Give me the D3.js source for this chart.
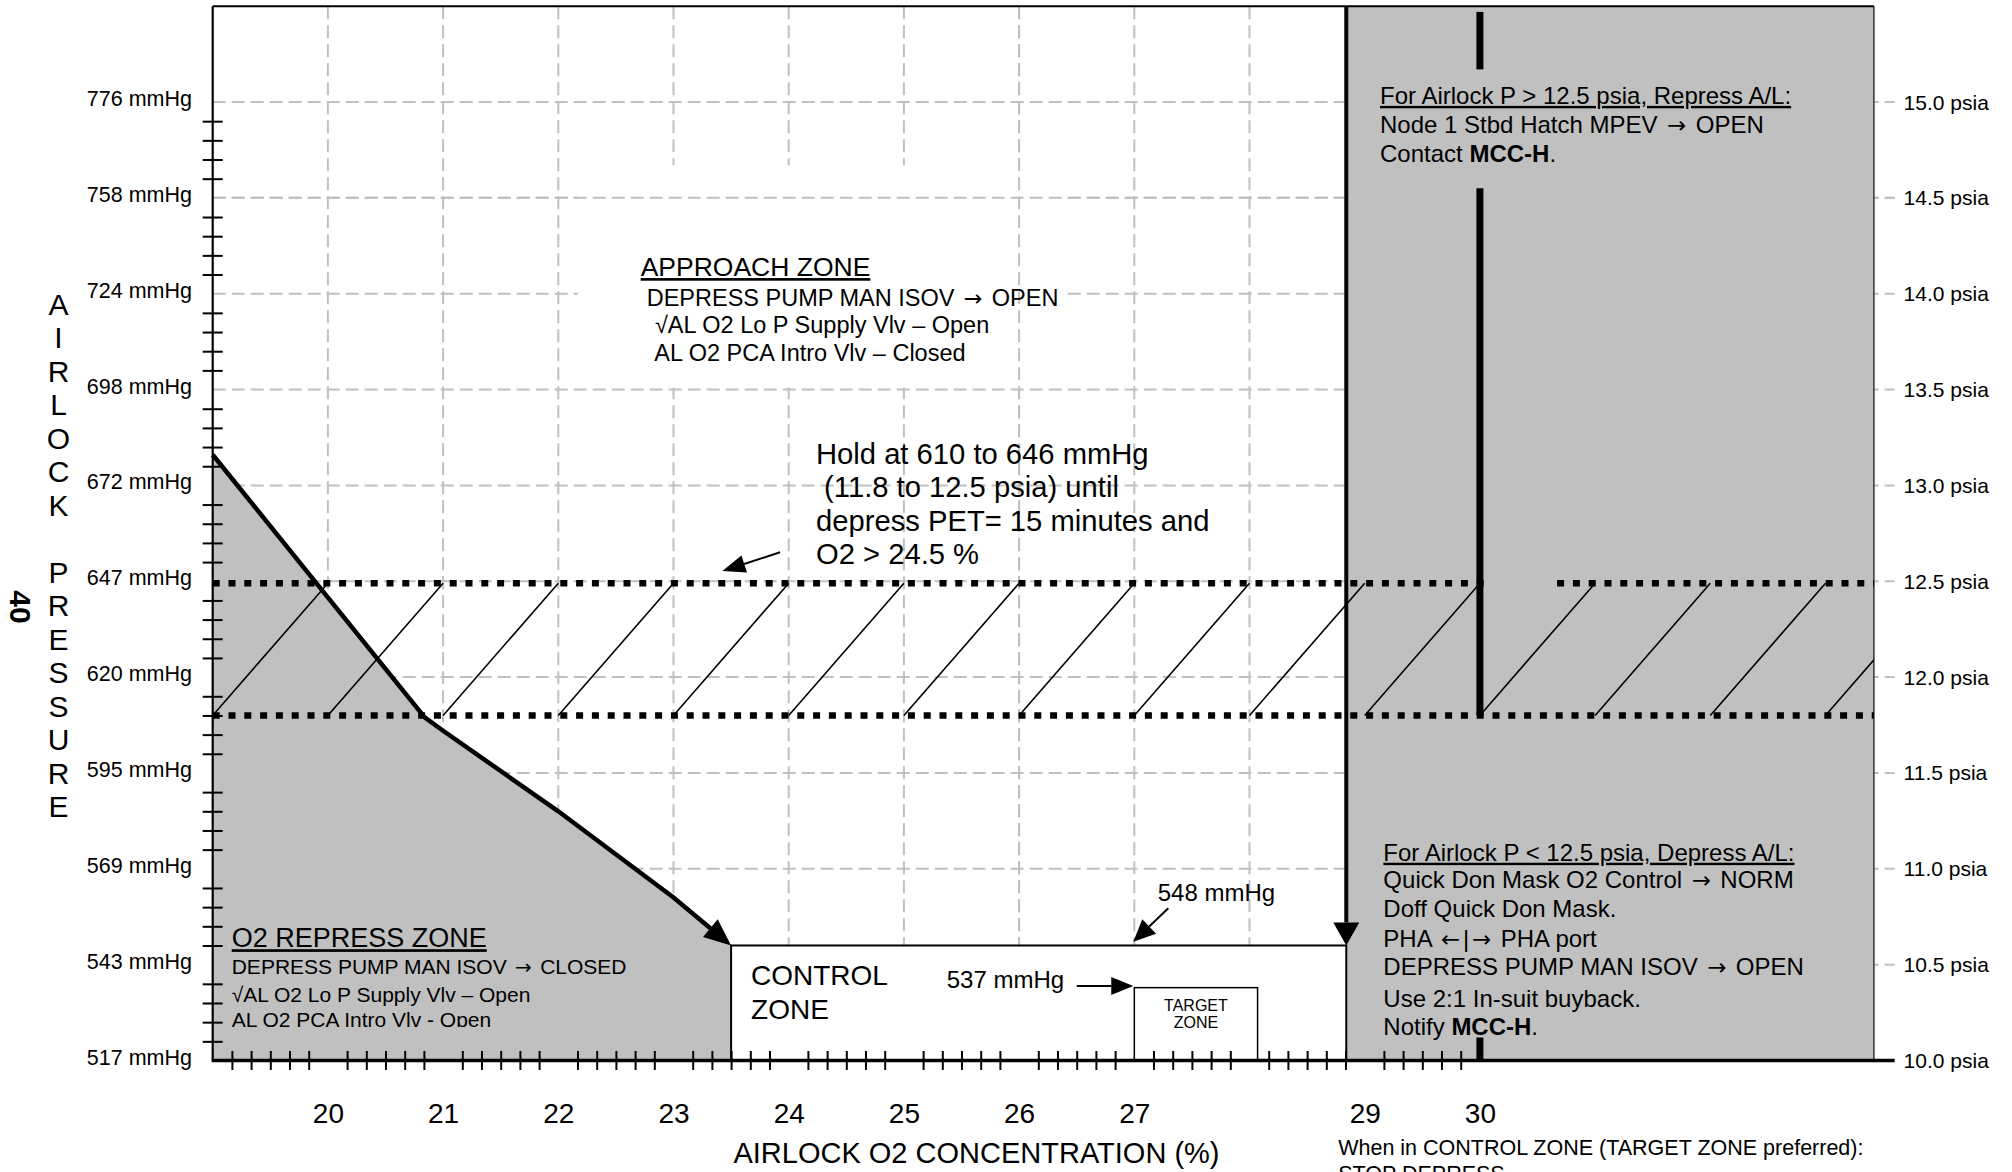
<!DOCTYPE html>
<html><head><meta charset="utf-8">
<script src="https://cdn.jsdelivr.net/npm/d3@7"></script>
<style>
body{margin:0;background:#fff}
svg{display:block}
text{font-family:"Liberation Sans",Arial,Helvetica,sans-serif;fill:#000}
</style></head>
<body><svg id="c" width="2012" height="1172"></svg>
<script>
// ---------------- DATA ----------------
const o2Domain = [19, 33.42];
const psiaDomain = [10, 15.5];
const psiaGrid = [15.0,14.5,14.0,13.5,13.0,12.5,12.0,11.5,11.0,10.5,10.0];
const mmHgLabels = ["776 mmHg","758 mmHg","724 mmHg","698 mmHg","672 mmHg","647 mmHg","620 mmHg","595 mmHg","569 mmHg","543 mmHg","517 mmHg"];
const psiaLabels = ["15.0 psia","14.5 psia","14.0 psia","13.5 psia","13.0 psia","12.5 psia","12.0 psia","11.5 psia","11.0 psia","10.5 psia","10.0 psia"];
const o2Grid = [20,21,22,23,24,25,26,27,28];
const o2Labels = [20,21,22,23,24,25,26,27,29,30];
const repressBoundary = [[19,13.16],[20.84,11.79],[21.0,11.72],[22.0,11.30],[23.0,10.85],[23.5,10.6]];
const holdBand = [11.8, 12.49];
const hatchStarts = [19,20,21,22,23,24,25,26,27,28,29,30,31,32,33];
const upperDotSegments = [[19,30.1],[30.67,33.42]];
const lowerDotSegments = [[19,33.42]];
const controlZoneO2 = [23.5, 28.84];
const controlZonePsia = [10, 10.6];
const targetZoneO2 = [27, 28.07];
const targetZonePsia = [10, 10.38];
const rightZoneO2 = [28.84, 33.42];
const o2ThirtySegments = [[15.47,15.17],[14.55,11.8],[10.12,10.0]];
const approachMaskO2 = [22.17, 26.4];
const approachMaskPsia = [13.51, 14.67];
const axisLetters = "AIRLOCK PRESSURE".split("");
const approachTitle = "APPROACH ZONE";
const approachLines = ["DEPRESS PUMP MAN ISOV \u2192 OPEN","\u221AAL O2 Lo P Supply Vlv \u2013 Open","AL O2 PCA Intro Vlv \u2013 Closed"];
const holdLines = ["Hold at 610 to 646 mmHg"," (11.8 to 12.5 psia) until","depress PET= 15 minutes and","O2 > 24.5 %"];
const repressTitle = "O2 REPRESS ZONE";
const repressLines = ["DEPRESS PUMP MAN ISOV \u2192 CLOSED","\u221AAL O2 Lo P Supply Vlv \u2013 Open","AL O2 PCA Intro Vlv - Open"];
const upperTitle = "For Airlock P > 12.5 psia, Repress A/L:";
const upperLines = [[["Node 1 Stbd Hatch MPEV \u2192 OPEN",0]],[["Contact ",0],["MCC-H",1],[".",0]]];
const lowerTitle = "For Airlock P < 12.5 psia, Depress A/L:";
const lowerLines = [[["Quick Don Mask O2 Control \u2192 NORM",0]],[["Doff Quick Don Mask.",0]],[["PHA \u2190|\u2192 PHA port",0]],[["DEPRESS PUMP MAN ISOV \u2192 OPEN",0]],[["Use 2:1 In-suit buyback.",0]],[["Notify ",0],["MCC-H",1],[".",0]]];
const noteLines = ["When in CONTROL ZONE (TARGET ZONE preferred):","STOP DEPRESS"];

// ---------------- SCALES ----------------
const svg = d3.select("#c");
const x = d3.scaleLinear().domain(o2Domain).range([212.7, 1873.9]);
const y = d3.scaleLinear().domain(psiaDomain).range([1060.5, 6.15]);
const FONT = '"Liberation Sans",Arial,Helvetica,sans-serif';
const ARROWFONT = '"DejaVu Sans","Liberation Sans",sans-serif';
const GRAY = "#c0c0c0";
const stubEnd = 33.6;

svg.append("rect").attr("width",2012).attr("height",1172).attr("fill","#fff");
const defs = svg.append("defs");
defs.append("clipPath").attr("id","plotClip").append("rect")
  .attr("x",x(o2Domain[0])).attr("y",y(psiaDomain[1])).attr("width",x(o2Domain[1])-x(o2Domain[0])).attr("height",y(10)-y(psiaDomain[1]));
defs.append("clipPath").attr("id","repClip").append("rect")
  .attr("x",x(19)).attr("y",0).attr("width",x(23.5)-x(19)).attr("height",y(10.175));

// ---------------- GRIDLINES ----------------
function hGrid(g, v){
  g.append("line").attr("x1",x(19)).attr("x2",x(stubEnd)).attr("y1",y(v)).attr("y2",y(v))
   .attr("stroke",GRAY).attr("stroke-width",2).attr("stroke-dasharray","13,6");
}
function vGrid(g, v){
  g.append("line").attr("x1",x(v)).attr("x2",x(v)).attr("y1",y(psiaDomain[1])).attr("y2",y(10))
   .attr("stroke",GRAY).attr("stroke-width",2).attr("stroke-dasharray","13,6");
}
const grid = svg.append("g");
psiaGrid.filter(v=>v>10).forEach(v=>hGrid(grid,v));
o2Grid.forEach(v=>vGrid(grid,v));
svg.append("rect").attr("x",x(approachMaskO2[0])).attr("y",y(approachMaskPsia[1]))
  .attr("width",x(approachMaskO2[1])-x(approachMaskO2[0])).attr("height",y(approachMaskPsia[0])-y(approachMaskPsia[1]))
  .attr("fill","#fff");
const grid2 = svg.append("g");
hGrid(grid2,14.5); vGrid(grid2,26);

// ---------------- ZONES ----------------
const polyPts = repressBoundary.concat([[23.5,10],[19,10]]);
svg.append("path").attr("d", d3.line().x(d=>x(d[0])).y(d=>y(d[1]))(polyPts)+"Z").attr("fill",GRAY);
svg.append("rect").attr("x",x(rightZoneO2[0])).attr("y",y(psiaDomain[1]))
  .attr("width",x(rightZoneO2[1])-x(rightZoneO2[0])).attr("height",y(10)-y(psiaDomain[1]))
  .attr("fill",GRAY);
svg.append("line").attr("x1",x(rightZoneO2[1])).attr("x2",x(rightZoneO2[1])).attr("y1",y(psiaDomain[1])).attr("y2",y(10))
  .attr("stroke","#333").attr("stroke-width",1.5);
svg.append("rect").attr("x",x(controlZoneO2[0])).attr("y",y(controlZonePsia[1]))
  .attr("width",x(controlZoneO2[1])-x(controlZoneO2[0])).attr("height",y(controlZonePsia[0])-y(controlZonePsia[1]))
  .attr("fill","#fff").attr("stroke","#000").attr("stroke-width",2);
svg.append("rect").attr("x",x(targetZoneO2[0])).attr("y",y(targetZonePsia[1]))
  .attr("width",x(targetZoneO2[1])-x(targetZoneO2[0])).attr("height",y(targetZonePsia[0])-y(targetZonePsia[1]))
  .attr("fill","#fff").attr("stroke","#000").attr("stroke-width",1.5);

// ---------------- HATCH + DOTTED ----------------
const hatch = svg.append("g").attr("clip-path","url(#plotClip)");
hatchStarts.forEach(n=>{
  hatch.append("line").attr("x1",x(n)).attr("y1",y(holdBand[0])).attr("x2",x(n+1)).attr("y2",y(holdBand[1]))
    .attr("stroke","#000").attr("stroke-width",1.6);
});
function dotted(segs, v){
  segs.forEach(s=>{
    svg.append("line").attr("x1",x(s[0])).attr("x2",x(s[1])).attr("y1",y(v)).attr("y2",y(v))
      .attr("stroke","#000").attr("stroke-width",6.5).attr("stroke-dasharray","7,8.8");
  });
}
dotted(upperDotSegments, holdBand[1]);
dotted(lowerDotSegments, holdBand[0]);

// ---------------- ARROWS ----------------
function head(px1,py1,px2,py2,len,hw){
  const dx=px2-px1, dy=py2-py1, L=Math.hypot(dx,dy), ux=dx/L, uy=dy/L;
  const bx=px2-ux*len, by=py2-uy*len;
  svg.append("path").attr("d",`M${px2},${py2}L${bx-uy*hw},${by+ux*hw}L${bx+uy*hw},${by-ux*hw}Z`).attr("fill","#000");
  return [bx,by];
}
function arrow(p1,p2,len,hw,w){
  const a=[x(p1[0]),y(p1[1])], b=[x(p2[0]),y(p2[1])];
  const base=head(a[0],a[1],b[0],b[1],len,hw);
  svg.append("line").attr("x1",a[0]).attr("y1",a[1]).attr("x2",base[0]).attr("y2",base[1])
    .attr("stroke","#000").attr("stroke-width",w);
}
{
  const pts = repressBoundary.map(d=>[x(d[0]),y(d[1])]);
  const n=pts.length;
  const base=head(pts[n-2][0],pts[n-2][1],pts[n-1][0],pts[n-1][1],27,11.5);
  const linePts = pts.slice(0,n-1).concat([base]);
  svg.append("path").attr("d",d3.line()(linePts)).attr("fill","none").attr("stroke","#000")
    .attr("stroke-width",4.5).attr("stroke-linejoin","miter");
}
{
  const xs=x(rightZoneO2[0]);
  const base=head(xs,y(psiaDomain[1]),xs,y(controlZonePsia[1]),23,13);
  svg.append("line").attr("x1",xs).attr("x2",xs).attr("y1",y(psiaDomain[1])).attr("y2",base[1])
    .attr("stroke","#000").attr("stroke-width",4);
}
o2ThirtySegments.forEach(s=>{
  svg.append("line").attr("x1",x(30)).attr("x2",x(30)).attr("y1",y(s[0])).attr("y2",y(s[1]))
    .attr("stroke","#000").attr("stroke-width",7);
});
arrow([23.925,12.651],[23.424,12.553],23,9,2);
arrow([27.295,10.794],[26.991,10.62],22,10,2);
arrow([26.5,10.389],[26.991,10.389],22,9,2);

// ---------------- AXES ----------------
svg.append("line").attr("x1",x(19)).attr("x2",x(o2Domain[1])).attr("y1",y(psiaDomain[1])).attr("y2",y(psiaDomain[1]))
  .attr("stroke","#000").attr("stroke-width",2);
svg.append("line").attr("x1",x(19)).attr("x2",x(19)).attr("y1",y(psiaDomain[1])).attr("y2",y(10))
  .attr("stroke","#000").attr("stroke-width",2.2);
svg.append("line").attr("x1",x(19)-1).attr("x2",x(stubEnd)).attr("y1",y(10)).attr("y2",y(10))
  .attr("stroke","#000").attr("stroke-width",3.5);

const minorPsia = d3.range(101,150).filter(i=>i%5!==0).map(i=>i/10);
const gLm = svg.append("g").attr("transform",`translate(${x(19)},0)`)
  .call(d3.axisLeft(y).tickValues(minorPsia).tickFormat("").tickSizeInner(10).tickSizeOuter(0));
gLm.select(".domain").remove();
gLm.selectAll(".tick line").attr("x1",10).attr("stroke-width",2);

const minorO2 = d3.range(115,181).filter(i=>i%6!==0).map(i=>i/6);
const gBm = svg.append("g").attr("transform",`translate(0,${y(10)})`)
  .call(d3.axisBottom(x).tickValues(minorO2).tickFormat("").tickSizeInner(9.5).tickSizeOuter(0));
gBm.select(".domain").remove();
gBm.selectAll(".tick line").attr("y1",-9.5).attr("stroke-width",2);

const gL = svg.append("g").attr("transform",`translate(${x(19)},0)`)
  .call(d3.axisLeft(y).tickValues(psiaGrid).tickFormat((d,i)=>mmHgLabels[i]).tickSize(0).tickPadding(20.7));
gL.select(".domain").remove();
gL.selectAll("text").attr("font-family",FONT).attr("font-size",21.5).attr("dy",3.5);

const gR = svg.append("g").attr("transform",`translate(${x(o2Domain[1])},0)`)
  .call(d3.axisRight(y).tickValues(psiaGrid).tickFormat((d,i)=>psiaLabels[i]).tickSize(0).tickPadding(29.7));
gR.select(".domain").remove();
gR.selectAll("text").attr("font-family",FONT).attr("font-size",21).attr("dy",7);

const gB = svg.append("g").attr("transform",`translate(0,${y(10)})`)
  .call(d3.axisBottom(x).tickValues(o2Labels).tickFormat(d=>d).tickSize(0));
gB.select(".domain").remove();
gB.selectAll("text").attr("font-family",FONT).attr("font-size",28).attr("y",62).attr("dy",0);

// ---------------- TEXT ----------------
function addRich(t, str, bold, size){
  let afterArrow=false;
  str.split(/([\u2190\u2192])/).forEach(part=>{
    if(part==="") return;
    const ts=t.append("tspan").text(part);
    if(bold) ts.attr("font-weight","bold");
    if(part==="\u2192"||part==="\u2190"){
      ts.attr("font-family",ARROWFONT).attr("font-size",size*0.95).attr("dx",size*0.12);
      afterArrow=true;
    } else if(afterArrow){
      ts.attr("dx",size*0.12); afterArrow=false;
    }
  });
}
function txt(px,py,s,size,opts={}){
  const t=svg.append("text").attr("x",px).attr("y",py).attr("font-size",size).attr("font-family",FONT);
  if(opts.anchor) t.attr("text-anchor",opts.anchor);
  if(opts.underline) t.style("text-decoration","underline");
  t.style("white-space","pre");
  if(Array.isArray(s)) s.forEach(p=>addRich(t,p[0],p[1],size));
  else addRich(t,s,false,size);
  return t;
}
axisLetters.forEach((c,i)=>{ if(c!==" ") txt(58.5, 304+i*33.5+10.7, c, 30, {anchor:"middle"}); });
svg.append("text").attr("transform","translate(20,607) rotate(90)").attr("text-anchor","middle").attr("dy",10.5)
  .attr("font-size",30).attr("font-weight","bold").attr("font-family",FONT).text("40");
txt(x(25.63), 1163.3, "AIRLOCK O2 CONCENTRATION (%)", 29, {anchor:"middle"});

{
  const ax=x(22.715), ay=y(14.092);
  txt(ax, ay, approachTitle, 26.5, {underline:true});
  const offs=[[6,29.7],[14.3,57.3],[13.6,84.7]];
  approachLines.forEach((l,i)=>txt(ax+offs[i][0], ay+offs[i][1], l, 23.5));
}
{
  const hx=x(24.237), hy=y(13.112);
  holdLines.forEach((l,i)=>txt(hx, hy+i*33.4, l, 29.2));
}
{
  const rx=x(19.165), ry=y(10.591);
  txt(rx, ry, repressTitle, 27, {underline:true});
  const g = svg.append("g").attr("clip-path","url(#repClip)");
  const offs=[26.7,54.4,79.4];
  repressLines.forEach((l,i)=>{
    const t=g.append("text").attr("x",rx).attr("y",ry+offs[i]).attr("font-size",21).attr("font-family",FONT).style("white-space","pre");
    addRich(t,l,false,21);
  });
}
txt(x(23.673), y(10.394), "CONTROL", 28);
txt(x(23.673), y(10.394)+34.3, "ZONE", 28);
txt(x(25.372), y(10.377), "537 mmHg", 24);
txt(x(27.203), y(10.834), "548 mmHg", 24);
txt(x((targetZoneO2[0]+targetZoneO2[1])/2), y(10.26), "TARGET", 16, {anchor:"middle"});
txt(x((targetZoneO2[0]+targetZoneO2[1])/2), y(10.171), "ZONE", 16, {anchor:"middle"});
{
  const ux=x(29.133), uy=y(14.99);
  txt(ux, uy, upperTitle, 24, {underline:true});
  const offs=[28.7,57.7];
  upperLines.forEach((l,i)=>txt(ux, uy+offs[i], l, 24));
}
{
  const lx=x(29.162), ly=y(11.042);
  txt(lx, ly, lowerTitle, 24, {underline:true});
  const offs=[27.6,56,86,114.3,146,174.3];
  lowerLines.forEach((l,i)=>txt(lx, ly+offs[i], l, 24));
}
txt(x(28.77), 1155, noteLines[0], 21.5);
txt(x(28.77), 1181, noteLines[1], 21.5);
</script>
</body></html>
